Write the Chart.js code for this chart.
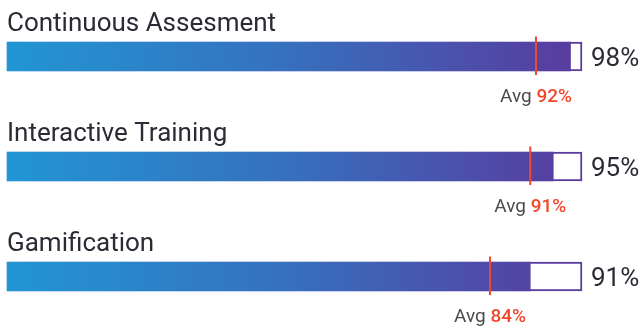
<!DOCTYPE html>
<html>
<head>
<meta charset="utf-8">
<script src="https://cdn.jsdelivr.net/npm/chart.js@4.4.1/dist/chart.umd.min.js"></script>
<style>
  html, body { margin: 0; padding: 0; background: #fff; }
  #wrap { width: 642px; height: 327px; }
</style>
</head>
<body>
<div id="wrap"><canvas id="skills"></canvas></div>
<script>
// scores per training method
var labels = ['Continuous Assesment', 'Interactive Training', 'Gamification'];
var scores = [98, 95, 91];
var averages = [92, 91, 84];
var full = [100, 100, 100];

var darkText = '#2b2b35';
var avgColor = '#f4472c';
var edgeColor = '#5b3b9f';

function barGradient(context) {
    var chart = context.chart;
    var area = chart.chartArea;
    if (!area) return '#3a6cc0';
    var g = chart.ctx.createLinearGradient(area.left, 0, area.right, 0);
    g.addColorStop(0, '#2196d4');
    g.addColorStop(0.5, '#376fbd');
    g.addColorStop(1, '#5a3a9e');
    return g;
}

// avg markers, names and percentages drawn on top of the bars
var overlay = {
    id: 'overlay',
    afterDatasetsDraw: function (chart) {
        var ctx = chart.ctx;
        var x = chart.scales.x;
        var y = chart.scales.y;
        ctx.save();
        labels.forEach(function (name, i) {
            var cy = y.getPixelForValue(i);
            var ax = x.getPixelForValue(averages[i]);

            // average marker
            ctx.strokeStyle = avgColor;
            ctx.lineWidth = 2;
            ctx.beginPath();
            ctx.moveTo(ax, cy - 20);
            ctx.lineTo(ax, cy + 18.5);
            ctx.stroke();

            // category name
            ctx.fillStyle = darkText;
            ctx.font = '26px Roboto';
            ctx.textAlign = 'left';
            ctx.textBaseline = 'alphabetic';
            ctx.fillText(name, x.left, cy - 25.5);

            // score
            ctx.font = '26px Roboto';
            ctx.fillText(scores[i] + '%', x.right + 9, cy + 9.5);

            // "Avg NN%" centred under the marker
            var a = 'Avg ';
            var p = averages[i] + '%';
            ctx.font = '19px Roboto';
            var wa = ctx.measureText(a).width;
            ctx.font = '500 19px Roboto';
            var wp = ctx.measureText(p).width;
            var sx = ax - (wa + wp) / 2;
            ctx.font = '19px Roboto';
            ctx.fillStyle = '#4a4a4f';
            ctx.fillText(a, sx, cy + 45.5);
            ctx.font = '500 19px Roboto';
            ctx.fillStyle = avgColor;
            ctx.fillText(p, sx + wa, cy + 45.5);
        });
        ctx.restore();
    }
};

new Chart(document.getElementById('skills'), {
    type: 'bar',
    data: {
        labels: labels,
        datasets: [
            {
                label: 'Score',
                data: scores,
                backgroundColor: barGradient,
                borderWidth: 0,
                order: 1
            },
            {
                label: 'Track',
                data: full,
                backgroundColor: '#ffffff',
                borderColor: edgeColor,
                borderWidth: 2,
                order: 2
            }
        ]
    },
    plugins: [overlay],
    options: {
        indexAxis: 'y',
        responsive: true,
        maintainAspectRatio: false,
        animation: false,
        clip: false,
        layout: {
            padding: { left: 7, right: 60, top: 56.5, bottom: 50.5 }
        },
        datasets: {
            bar: { grouped: false, barThickness: 29 }
        },
        plugins: {
            legend: { display: false },
            tooltip: { enabled: false }
        },
        scales: {
            x: { display: false, min: 0, max: 100 },
            y: { display: false, offset: false }
        }
    }
});
</script>
</body>
</html>
